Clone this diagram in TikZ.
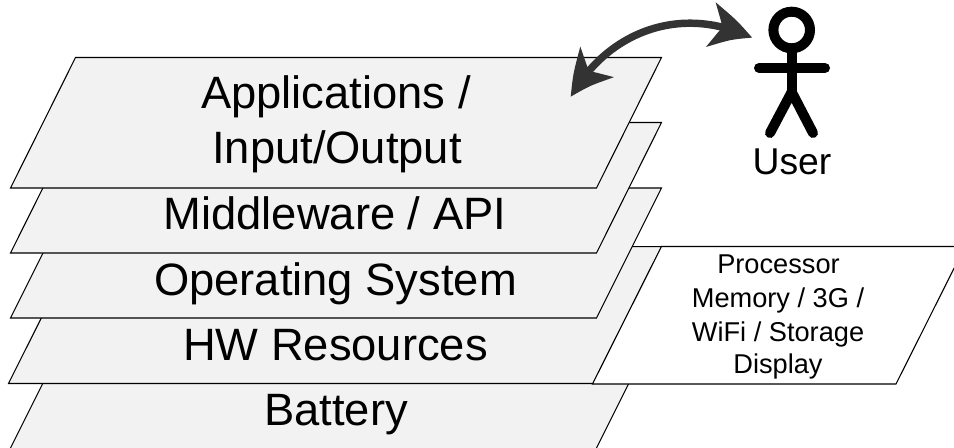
\documentclass[tikz,border=0pt]{standalone}
\usepackage{fontspec}
\setmainfont{Liberation Sans}
\usetikzlibrary{arrows.meta}
\usetikzlibrary{bending}
\definecolor{layergray}{HTML}{F2F2F2}
\definecolor{arrowgray}{HTML}{333333}
\tikzset{
  layer/.style={draw=black, fill=layergray, line width=0.8pt, line join=miter},
  hwbox/.style={draw=black, fill=white, line width=0.8pt},
  bigtext/.style={font=\fontsize{34}{41}\selectfont, inner sep=0pt, anchor=base, align=center},
  smalltext/.style={font=\fontsize{20.4}{25}\selectfont, inner sep=0pt, anchor=base, align=center},
  usertext/.style={font=\fontsize{28}{32}\selectfont, inner sep=0pt, anchor=base},
  stick/.style={black, line width=7.5pt, line cap=round},
  linkarrow/.style={arrowgray, line width=5.6pt, {Stealth[length=33pt,width=33pt,inset=9pt,bend]}-{Stealth[length=33pt,width=33pt,inset=9pt,bend]}}
}

\begin{document}
\begin{tikzpicture}[x=0.75pt,y=-0.75pt]

\useasboundingbox (0,0) rectangle (954,447);
\clip (0,0) rectangle (954,447);

% layers, lowest first
{
\draw[layer] (75.5,318)--++(586,0)--++(-68,136)--++(-586,0)--cycle;
\draw[layer] (77,246.7)--++(584.5,0)--++(-68.5,136.8)--++(-584.5,0)--cycle;
\draw[layer] (75.5,188)--++(586,0)--++(-65,130)--++(-586,0)--cycle;
\draw[layer] (75.5,122.5)--++(586,0)--++(-65,130.5)--++(-586,0)--cycle;
\draw[layer] (75.5,57.5)--++(586,0)--++(-65,130.5)--++(-586,0)--cycle;
}

% hardware box
\draw[hwbox] (661.5,246.5)--++(303.5,0)--++(-69,137.5)--++(-303.5,0)--cycle;

% user
{
\draw[stick] (791.7,30) circle [radius=18.3];
\draw[stick] (791.7,50)--++(0,42);
\draw[stick] (759,68)--++(66,0);
\draw[stick] (770,133)--(791.7,92)--(813,133);
}

% nodes
{
\node[bigtext] (apps) at (336,108) {Applications /};
\node[bigtext] (io) at (337,163) {Input/Output};
\node[bigtext] (middleware) at (335,229) {Middleware / API};
\node[bigtext] (os) at (335.5,295) {Operating System};
\node[bigtext] (hw) at (335.5,360) {HW Resources};
\node[bigtext] (battery) at (336,425) {Battery};

\node[smalltext] (processor) at (778.5,273) {Processor};
\node[smalltext] (memory) at (778,307) {Memory / 3G /};
\node[smalltext] (wifi) at (778,341) {WiFi / Storage};
\node[smalltext] (display) at (778,373) {Display};

\node[usertext] (user) at (792,174) {User};
}

% arrow between layer and user
\coordinate (appstip) at (571,97);
\coordinate (usertip) at (752,38);
\draw[linkarrow] (appstip) .. controls (606,33) and (680,3) .. (usertip);

\end{tikzpicture}
\end{document}
